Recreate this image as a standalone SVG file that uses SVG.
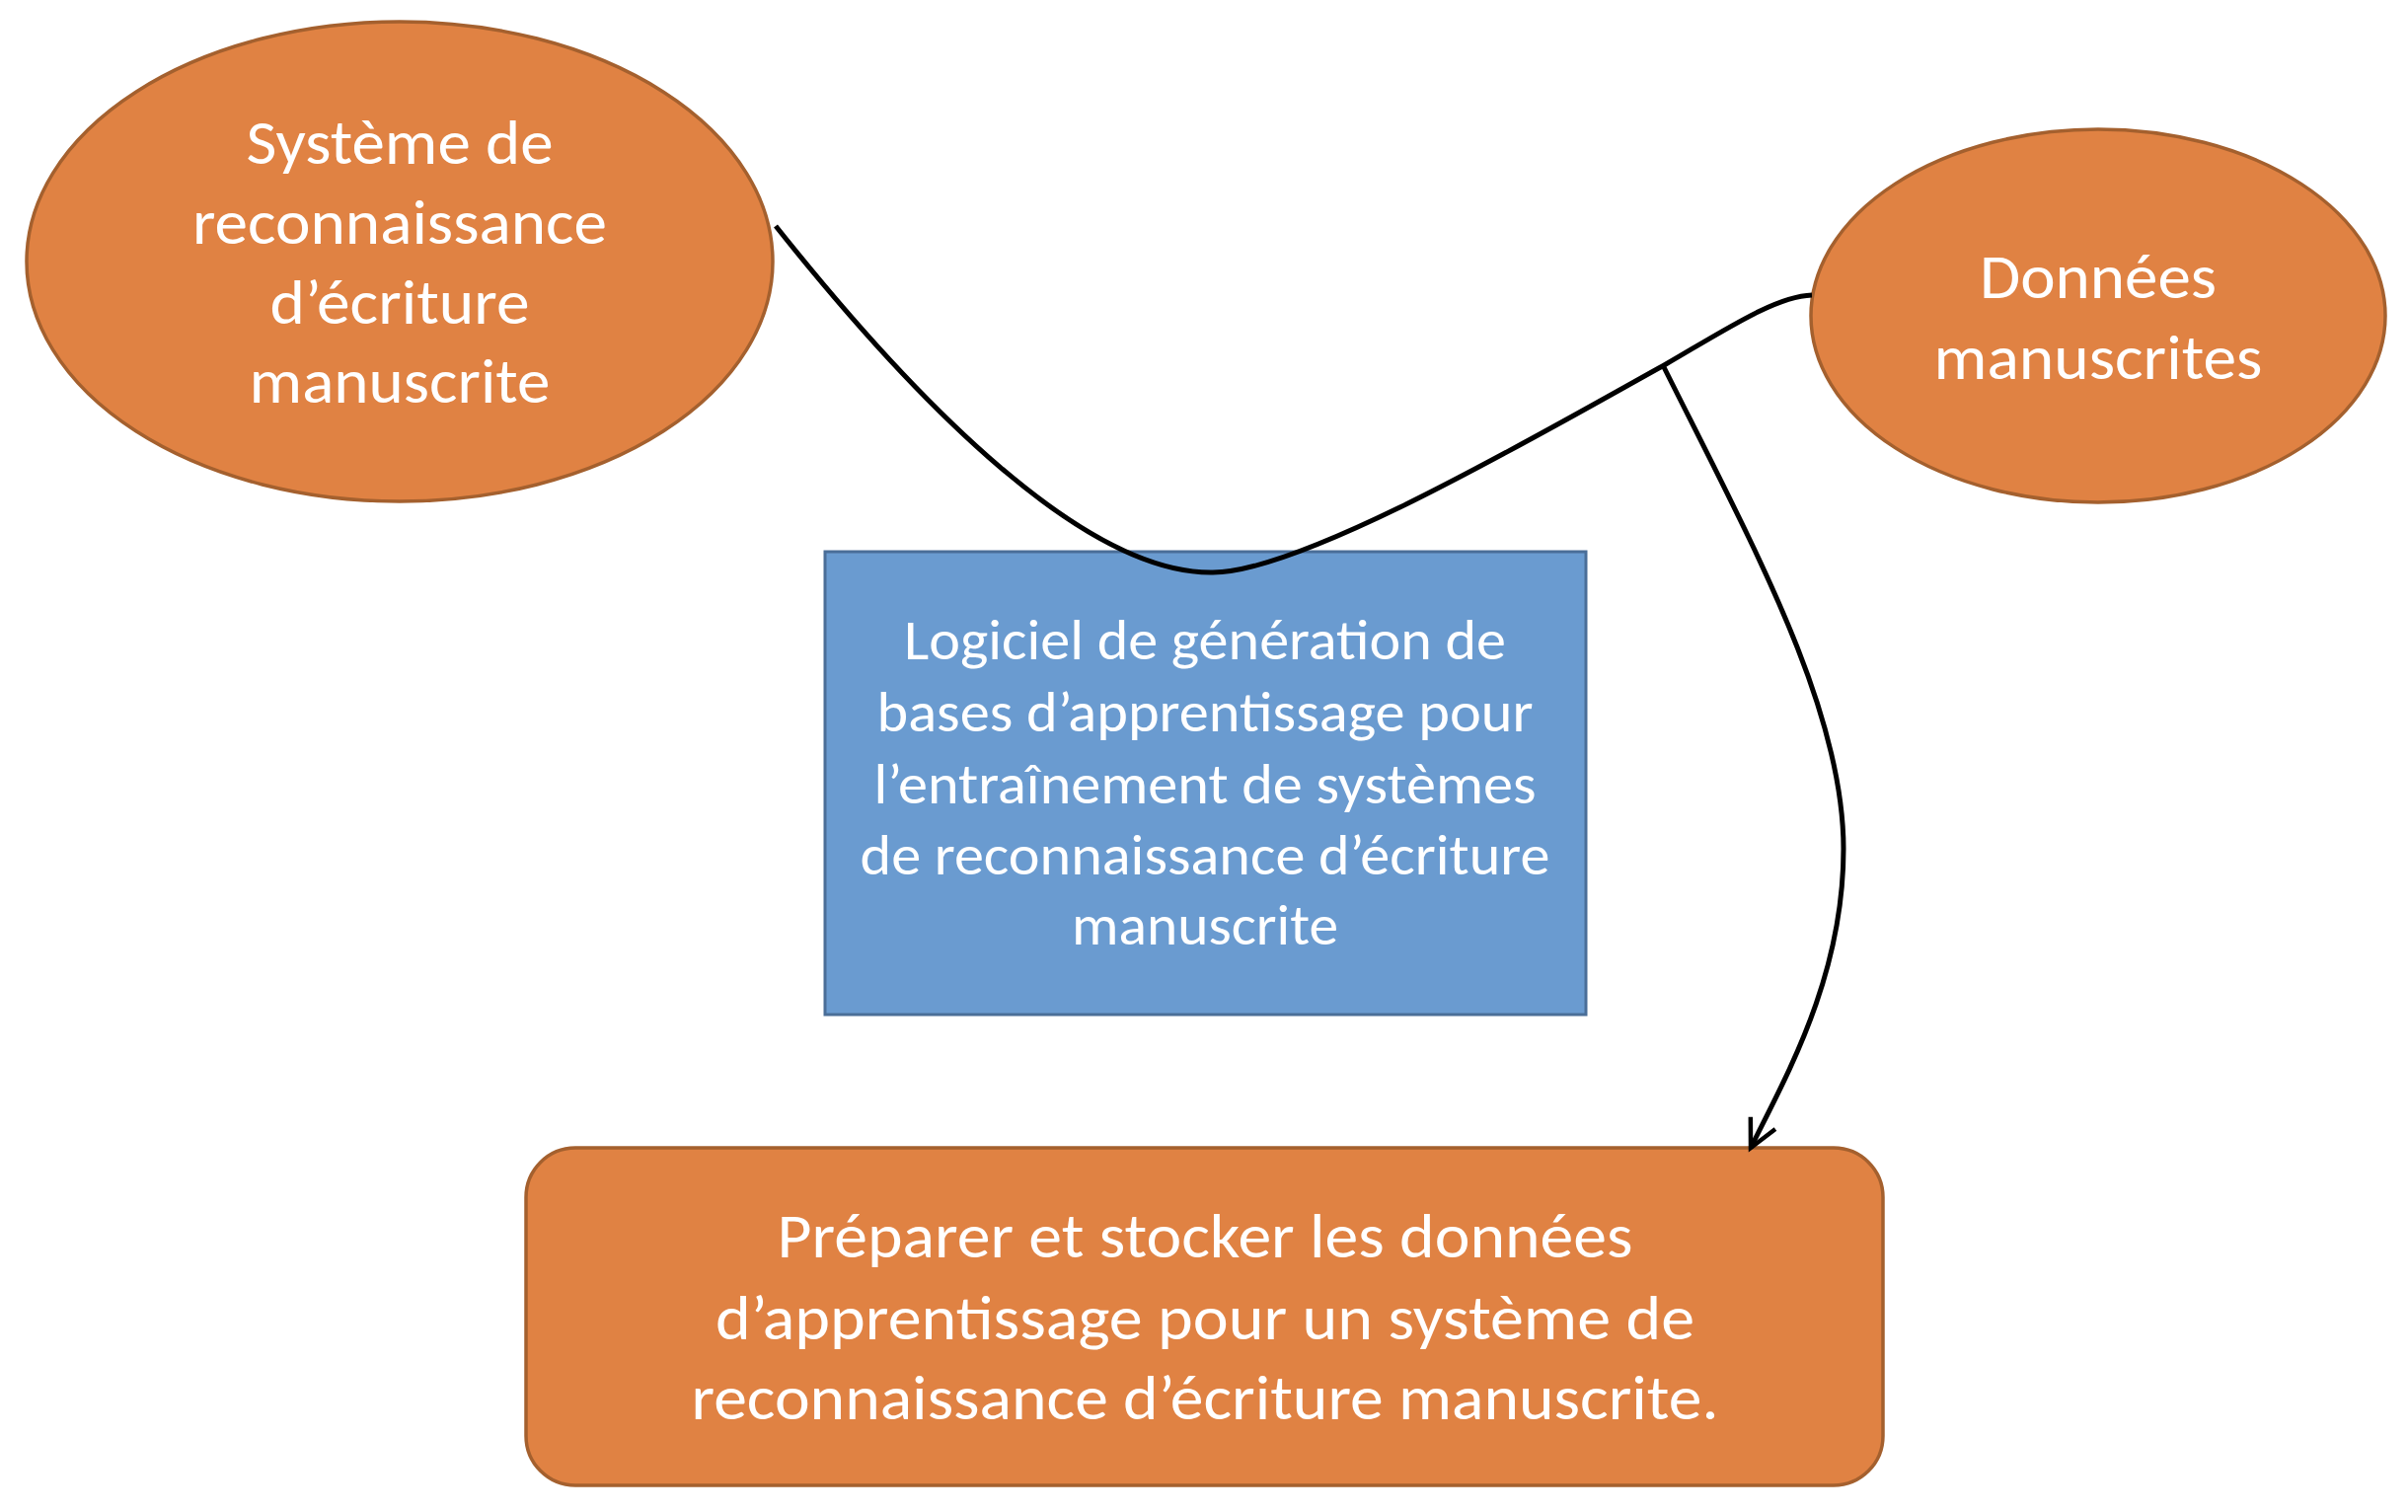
<svg xmlns="http://www.w3.org/2000/svg" width="2440" height="1532" viewBox="0 0 2440 1532">
<style>
.orange{fill:#E08243;stroke:#A4602E;stroke-width:3.5}
.blue{fill:#6A9BD0;stroke:#4A6E98;stroke-width:3}
.t{font-family:Carlito,"Liberation Sans Narrow","Open Sans",sans-serif;fill:#FFFFFF;text-anchor:middle}
.big{font-size:64px}
.mid{font-size:57px}
.edge{fill:none;stroke:#000000;stroke-width:5;stroke-linecap:butt}
</style>
<defs>
<marker id="arr" markerUnits="userSpaceOnUse" markerWidth="40" markerHeight="40" refX="0" refY="0" viewBox="-32 -20 40 40" orient="auto" overflow="visible">
<path d="M-28,-14 L0,0 L-28,14" fill="none" stroke="#000000" stroke-width="4.5"/>
</marker>
</defs>
<rect width="2440" height="1532" fill="#FFFFFF"/>
<g id="node-systeme">
<ellipse class="orange" cx="405" cy="265" rx="378" ry="243"/>
<text class="t big" x="405" y="166" textLength="311" lengthAdjust="spacingAndGlyphs">Système de</text>
<text class="t big" x="405" y="247" textLength="420" lengthAdjust="spacingAndGlyphs">reconnaissance</text>
<text class="t big" x="405" y="328" textLength="263" lengthAdjust="spacingAndGlyphs">d’écriture</text>
<text class="t big" x="405" y="408" textLength="305" lengthAdjust="spacingAndGlyphs">manuscrite</text>
</g>
<g id="node-donnees">
<ellipse class="orange" cx="2126" cy="320" rx="291" ry="189"/>
<text class="t big" x="2126" y="302" textLength="240" lengthAdjust="spacingAndGlyphs">Données</text>
<text class="t big" x="2126" y="384" textLength="333" lengthAdjust="spacingAndGlyphs">manuscrites</text>
</g>
<g id="node-logiciel">
<rect class="blue" x="836" y="559" width="771" height="469"/>
<text class="t mid" x="1221" y="668" textLength="610" lengthAdjust="spacingAndGlyphs">Logiciel de génération de</text>
<text class="t mid" x="1221" y="741" textLength="665" lengthAdjust="spacingAndGlyphs">bases d’apprentissage pour</text>
<text class="t mid" x="1221" y="814" textLength="671" lengthAdjust="spacingAndGlyphs">l’entraînement de systèmes</text>
<text class="t mid" x="1221" y="886" textLength="699" lengthAdjust="spacingAndGlyphs">de reconnaissance d’écriture</text>
<text class="t mid" x="1221" y="957" textLength="270" lengthAdjust="spacingAndGlyphs">manuscrite</text>
</g>
<g id="node-preparer">
<rect class="orange" x="533" y="1163" width="1375" height="342" rx="50" ry="50"/>
<text class="t big" x="1221" y="1274" textLength="867" lengthAdjust="spacingAndGlyphs">Préparer et stocker les données</text>
<text class="t big" x="1221" y="1357" textLength="992" lengthAdjust="spacingAndGlyphs">d’apprentissage pour un système de</text>
<text class="t big" x="1221" y="1438" textLength="1041" lengthAdjust="spacingAndGlyphs">reconnaissance d’écriture manuscrite.</text>
</g>
<g id="connectors">
<path class="edge" d="M786,229 C930,410 1100,582 1229,580 C1320,580 1560,440 1688,369 C1750,333 1800,300 1836,299"/>
<path class="edge" stroke-width="4.5" d="M1686,372 C1780,560 1868,720 1868,860 C1868,990 1810,1090 1774,1163" marker-end="url(#arr)"/>
</g>
</svg>
